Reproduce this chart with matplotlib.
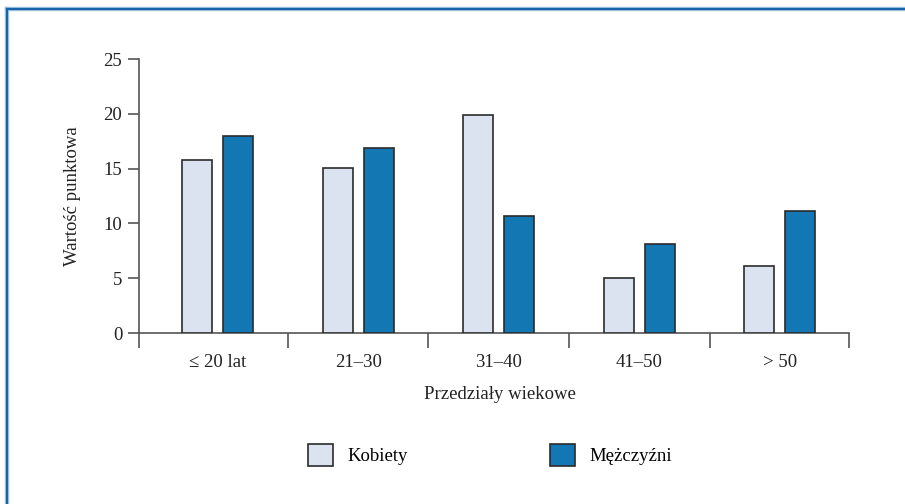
import matplotlib
matplotlib.use("Agg")
import matplotlib.pyplot as plt
import numpy as np
from matplotlib.lines import Line2D
from matplotlib.patches import Patch

categories = ["≤ 20 lat", "21–30", "31–40", "41–50", "> 50"]
kobiety = [15.8, 15.1, 19.9, 5.0, 6.1]
mezczyzni = [18.0, 16.9, 10.7, 8.1, 11.1]
series_names = ["Kobiety", "Mężczyźni"]
yticks = [0, 5, 10, 15, 20, 25]

c_k = "#dce3f0"
c_m = "#1277b2"
edge = "#2b2b2b"
axc = "#555555"
txt = "#222222"

plt.rcParams["font.family"] = ["Liberation Serif", "DejaVu Serif"]
fig = plt.figure(figsize=(9.05, 5.04), dpi=100)
W, H = 905, 504
ax = fig.add_axes([139 / W, 1 - 333 / H, (849 - 139) / W, (333 - 59) / H])

n = len(categories)
x = 0.553 + 0.99 * np.arange(n)
bw = 0.212
gap = 0.077
ax.bar(x - (bw + gap) / 2, kobiety, bw, color=c_k, edgecolor=edge, linewidth=1.2, zorder=3)
ax.bar(x + (bw + gap) / 2, mezczyzni, bw, color=c_m, edgecolor=edge, linewidth=1.2, zorder=3)

ax.set_xlim(0, n)
ax.set_ylim(0, 25)
ax.set_yticks(yticks)
bounds = np.concatenate([[0], (x[:-1] + x[1:]) / 2, [n]])
ax.set_xticks(bounds)
ax.set_xticklabels([])
ax.set_xticks(x, minor=True)
ax.set_xticklabels(categories, minor=True)
ax.tick_params(axis="x", which="minor", length=0, pad=15, labelsize=13.5, colors=txt)
ax.tick_params(axis="x", which="major", length=11, width=1.2, color=axc)
ax.tick_params(axis="y", length=8, width=1.2, color=axc, labelsize=13.5, labelcolor=txt, pad=4)
for s in ["top", "right"]:
    ax.spines[s].set_visible(False)
for s in ["left", "bottom"]:
    ax.spines[s].set_color(axc)
    ax.spines[s].set_linewidth(1.2)

ax.set_xlabel("Przedziały wiekowe", fontsize=13.5, color=txt)
ax.xaxis.set_label_coords((500 - 139) / 710, -53 / 274)
ax.set_ylabel("Wartość punktowa", fontsize=13.5, color=txt, labelpad=16)

handles = [Patch(facecolor=c_k, edgecolor=edge, linewidth=1.2),
           Patch(facecolor=c_m, edgecolor=edge, linewidth=1.2)]
fig.legend(handles, series_names, loc="center", bbox_to_anchor=(490 / W, 1 - 455 / H),
           ncol=2, frameon=False, fontsize=13.5, handlelength=1.35, handleheight=1.35,
           handletextpad=0.75, columnspacing=7.6)

# frame
for lw, col in [(3.2, "#a9c8e3"), (1.6, "#1565a8")]:
    fig.add_artist(Line2D([7 / W, 1], [1 - 9 / H, 1 - 9 / H], color=col, lw=lw, transform=fig.transFigure))
    fig.add_artist(Line2D([7 / W, 7 / W], [0, 1 - 9 / H], color=col, lw=lw, transform=fig.transFigure))

fig.savefig("out.png", dpi=100)
